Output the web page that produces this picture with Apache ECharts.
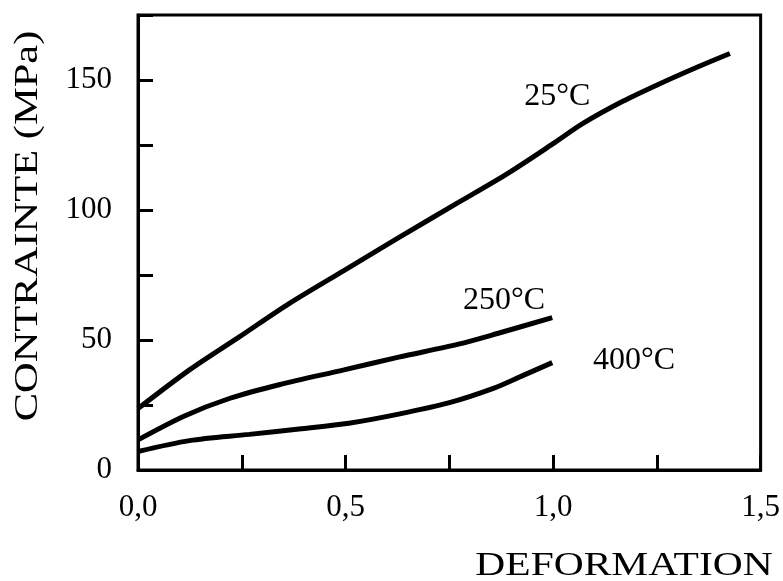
<!DOCTYPE html>
<html>
<head>
<meta charset="utf-8">
<script src="https://cdn.jsdelivr.net/npm/echarts@6/dist/echarts.min.js"></script>
<style>
  html, body { margin: 0; padding: 0; background: #fff; }
  #chart { width: 783px; height: 581px; }
</style>
</head>
<body>
<div id="chart"></div>
<script>
// courbes contrainte / deformation
var def25 = [0, 0.124, 0.244, 0.364, 0.496, 0.628, 0.772, 0.892, 1.0, 1.072, 1.168, 1.252, 1.348, 1.426];
var sig25 = [23.6, 38.5, 51.2, 64.0, 76.7, 89.4, 102.9, 114.2, 125.5, 133.3, 141.8, 148.2, 155.0, 160.2];

var def250 = [0, 0.112, 0.22, 0.34, 0.496, 0.628, 0.772, 0.868, 0.998];
var sig250 = [11.6, 20.8, 27.5, 32.8, 38.5, 43.4, 48.4, 52.6, 58.6];

var def400 = [0, 0.124, 0.268, 0.388, 0.508, 0.628, 0.748, 0.856, 0.928, 0.998];
var sig400 = [7.1, 11.3, 13.7, 15.8, 18.0, 21.5, 25.8, 31.4, 36.4, 41.3];

var xTicks = [0, 0.5, 1.0, 1.5];
var yTicks = [0, 50, 100, 150];

var serif = 'Liberation Serif';

function pairs(xs, ys) {
    var out = [];
    for (var i = 0; i < xs.length; i++) {
        out.push([xs[i], ys[i]]);
    }
    return out;
}

function curve(name, xs, ys, labelPos) {
    return {
        name: name,
        type: 'line',
        smooth: 0.3,
        showSymbol: false,
        data: pairs(xs, ys),
        lineStyle: { color: '#000', width: 5 },
        markPoint: {
            symbol: 'circle',
            symbolSize: 1,
            itemStyle: { color: 'rgba(0,0,0,0)' },
            label: {
                show: true,
                position: 'inside',
                formatter: name,
                color: '#000',
                fontFamily: serif,
                fontSize: 32
            },
            data: [{ coord: labelPos }]
        }
    };
}

var chart = echarts.init(document.getElementById('chart'));
var option = {
    animation: false,
    backgroundColor: '#fff',
    grid: {
        left: 138,
        right: 21,
        top: 15,
        bottom: 111,
        show: true,
        borderColor: '#000',
        borderWidth: 3
    },
    xAxis: {
        type: 'value',
        min: 0,
        max: 1.5,
        interval: 0.25,
        splitLine: { show: false },
        axisLine: { lineStyle: { color: '#000', width: 3 } },
        axisTick: { inside: true, length: 15, lineStyle: { color: '#000', width: 3 } },
        axisLabel: {
            margin: 22,
            color: '#000',
            fontFamily: serif,
            fontSize: 31,
            formatter: function (v) {
                if (xTicks.indexOf(v) < 0) return '';
                return v.toFixed(1).replace('.', ',');
            }
        }
    },
    yAxis: {
        type: 'value',
        min: 0,
        max: 175,
        interval: 25,
        splitLine: { show: false },
        axisLine: { lineStyle: { color: '#000', width: 3 } },
        axisTick: { inside: true, length: 15, lineStyle: { color: '#000', width: 3 } },
        axisLabel: {
            margin: 26,
            color: '#000',
            fontFamily: serif,
            fontSize: 31,
            formatter: function (v) {
                return yTicks.indexOf(v) < 0 ? '' : String(v);
            }
        }
    },
    graphic: [
        {
            type: 'text',
            x: 28,
            y: 226,
            rotation: Math.PI / 2,
            scaleX: 1.25,
            style: {
                text: 'CONTRAINTE (MPa)',
                fontFamily: serif,
                fontSize: 34,
                fill: '#000',
                textAlign: 'center',
                textVerticalAlign: 'middle'
            }
        },
        {
            type: 'text',
            x: 624,
            y: 566,
            scaleX: 1.22,
            style: {
                text: 'DEFORMATION',
                fontFamily: serif,
                fontSize: 34,
                fill: '#000',
                textAlign: 'center',
                textVerticalAlign: 'middle'
            }
        }
    ],
    series: [
        curve('25°C', def25, sig25, [1.01, 143.8]),
        curve('250°C', def250, sig250, [0.882, 65.2]),
        curve('400°C', def400, sig400, [1.195, 42.2])
    ]
};
chart.setOption(option);
</script>
</body>
</html>
